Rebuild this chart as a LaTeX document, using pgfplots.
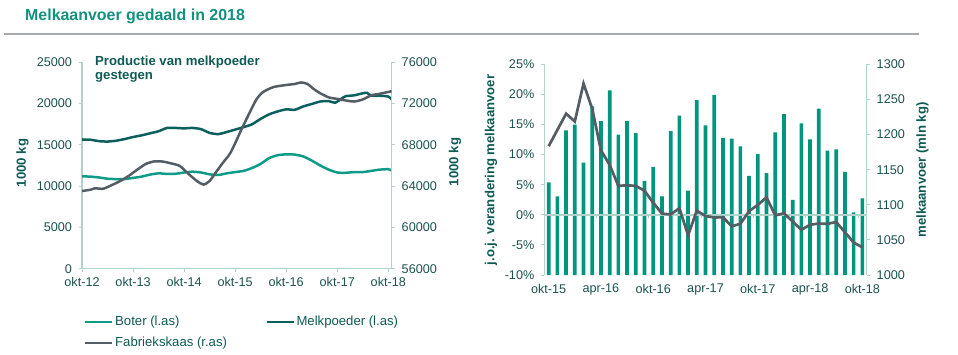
\documentclass[border=0pt]{standalone}
\usepackage{fontspec}
\setmainfont{Liberation Sans}
\usepackage{pgfplots}
\pgfplotsset{compat=1.18}
\definecolor{boter}{HTML}{0E9C88}
\definecolor{poeder}{HTML}{0B605E}
\definecolor{kaas}{HTML}{555D64}
\definecolor{barc}{HTML}{00957F}
\definecolor{axc}{HTML}{B0D2CA}
\definecolor{tickc}{HTML}{1B524E}
\definecolor{labc}{HTML}{0F5A55}
\definecolor{titlec}{HTML}{13917E}
\definecolor{rulec}{HTML}{A8ABAE}
\pgfplotsset{
  base/.style={
    scale only axis,
    anchor=south west,
    scaled ticks=false,
    /pgf/number format/assume math mode=true,
    /pgf/number format/set thousands separator={},
    tick label style={font=\fontsize{12.7}{14}\selectfont, text=tickc},
    axis line style={axc, line width=1.2bp},
    tick style={axc, line width=1bp},
    major tick length=3.5bp,
    tick align=outside,
    yticklabel shift=3bp,
    xticklabel shift=2bp,
  }
}
\begin{document}
\begin{tikzpicture}[x=1bp,y=1bp]
\useasboundingbox (0,0) rectangle (958,354);
\node[anchor=base west, font=\bfseries\fontsize{16}{19}\selectfont, text=titlec, inner sep=0] at (25,333.3) {Melkaanvoer gedaald in 2018};
\draw[rulec, line width=2.5bp] (4,320) -- (919,320);

% ---------------- left chart ----------------
\begin{axis}[base,
  at={(82bp,85.3bp)}, width=309.7bp, height=206.4bp,
  xmin=0, xmax=72.8, ymin=0, ymax=25000,
  axis y line*=left, axis x line*=bottom,
  ytick={0,5000,...,25000},
  xtick={0,12,...,72},
  xticklabels={okt-12,okt-13,okt-14,okt-15,okt-16,okt-17,okt-18},
  legend columns=2,
  legend cell align=left,
  legend image code/.code={\draw[#1, line width=2.5bp] (0bp,0bp) -- (27bp,0bp);},
  legend style={at={(axis description cs:0,0)}, anchor=north west, xshift=2bp, yshift=-46bp,
    draw=none, fill=none, inner sep=0pt, row sep=7bp,
    nodes={inner sep=1.5bp, font=\fontsize{13.2}{15}\selectfont, text=labc},
    /tikz/every even column/.append style={column sep=37bp}},
]
\addplot[boter, line width=2.5bp, smooth, tension=0.4] coordinates {
(0,11190)(2,11150)(4,11050)(6,10900)(8,10850)(10,10850)(12,11000)(14,11150)(16,11400)(18,11550)(20,11480)(22,11500)(24,11650)(26,11750)(28,11650)(30,11430)(32,11350)(34,11550)(36,11700)(38,11850)(40,12200)(42,12700)(44,13400)(46,13750)(48,13850)(50,13820)(52,13600)(54,13100)(56,12500)(58,12000)(60,11650)(62,11620)(64,11700)(66,11700)(68,11850)(70,12000)(72,12050)(72.8,11900)};
\addlegendentry{Boter (l.as)}
\addplot[poeder, line width=2.5bp, smooth, tension=0.4] coordinates {
(0,15650)(2,15620)(4,15450)(6,15400)(8,15500)(10,15700)(12,15950)(14,16150)(16,16400)(18,16650)(20,17050)(22,17050)(24,17000)(26,17050)(28,16900)(30,16450)(32,16300)(34,16550)(36,16850)(38,17150)(40,17500)(42,18150)(44,18700)(46,19050)(48,19300)(50,19250)(52,19650)(54,19950)(56,20250)(58,20300)(59.5,20100)(61,20600)(62,20900)(64,21000)(66,21250)(67,21300)(68,20950)(70,20950)(72,20850)(72.8,20500)};
\addlegendentry{Melkpoeder (l.as)}
\addlegendimage{kaas, line width=2.5bp}
\addlegendentry{Fabriekskaas (r.as)}
\end{axis}
\begin{axis}[base,
  at={(82bp,85.3bp)}, width=309.7bp, height=206.4bp,
  xmin=0, xmax=72.8, ymin=56000, ymax=76000,
  axis y line*=right, axis x line=none,
  ytick={56000,60000,...,76000},
]
\addplot[kaas, line width=2.5bp, smooth, tension=0.4] coordinates {
(0,63530)(2,63650)(3,63790)(5,63750)(7,64100)(9,64500)(11,65000)(13,65600)(15,66150)(17,66400)(19,66380)(21,66200)(23,65950)(25,65200)(27,64500)(28.6,64150)(30,64500)(31.3,65240)(33,66200)(35,67300)(37.6,69600)(39.5,71200)(41,72400)(42.5,73100)(45,73600)(48,73800)(50,73900)(51.5,74050)(53,73900)(54.5,73400)(56,73000)(58,72600)(60,72450)(62,72300)(64,72200)(66,72400)(68,72800)(70,72950)(72.8,73200)};
\end{axis}
\node[anchor=base west, font=\bfseries\fontsize{13.2}{15}\selectfont, text=labc, inner sep=0] at (95,289) {Productie van melkpoeder};
\node[anchor=base west, font=\bfseries\fontsize{13.2}{15}\selectfont, text=labc, inner sep=0] at (95,275) {gestegen};
\node[rotate=90, font=\bfseries\fontsize{13.2}{15}\selectfont, text=labc] at (22.5,191) {1000 kg};
\node[rotate=90, font=\bfseries\fontsize{13.2}{15}\selectfont, text=labc] at (455,192) {1000 kg};

% ---------------- right chart ----------------
\begin{axis}[base,
  at={(544.3bp,79bp)}, width=322.4bp, height=210.7bp,
  xmin=-0.5, xmax=36.5, ymin=1000, ymax=1300,
  axis y line*=right, axis x line=none,
  ytick={1000,1050,...,1300},
]
\addplot[ybar, bar width=3.7bp, bar shift=0pt, fill=barc, draw=none] coordinates {
(0,1132)(1,1112)(2,1206)(3,1214)(4,1160)(5,1240)(6,1219)(7,1263)(8,1200)(9,1219)(10,1202)(11,1134)(12,1154)(13,1112)(14,1205)(15,1227)(16,1120)(17,1249)(18,1213)(19,1256)(20,1195)(21,1194)(22,1183)(23,1141)(24,1172)(25,1145)(26,1203)(27,1229)(28,1107)(29,1216)(30,1193)(31,1237)(32,1177)(33,1179)(34,1147)(35,1089)(36,1109)};
\end{axis}
\begin{axis}[base,
  at={(544.3bp,79bp)}, width=322.4bp, height=210.7bp,
  xmin=-0.5, xmax=36.5, ymin=-10, ymax=25,
  axis y line=none, axis x line*=middle,
  x axis line style={draw=none},
  xtick={5.5,11.5,...,35.5}, xticklabels={},
  xtick align=outside,
]
\addplot[draw=none] coordinates {(0,0)};
\end{axis}
\begin{axis}[base,
  at={(544.3bp,79bp)}, width=322.4bp, height=210.7bp,
  xmin=-0.5, xmax=36.5, ymin=-10, ymax=25,
  axis y line*=left, axis x line*=bottom,
  x axis line style={draw=none},
  xtick style={draw=none},
  ytick={-10,-5,...,25},
  yticklabels={-10\%,-5\%,0\%,5\%,10\%,15\%,20\%,25\%},
  xtick={0,6,...,36},
  xticklabels={okt-15,apr-16,okt-16,apr-17,okt-17,apr-18,okt-18},
  xticklabel shift=2bp,
  extra y ticks={0}, extra y tick labels={},
  extra y tick style={grid=major, major grid style={axc, line width=2bp}},
]
\addplot[kaas, line width=2.7bp] coordinates {
(0,11.4)(1,14.1)(2,16.8)(3,15.5)(4,21.8)(5,17.6)(6,10.7)(7,8.3)(8,4.8)(9,4.9)(10,4.8)(11,4.0)(12,2.0)(13,0.2)(14,0.05)(15,1.1)(16,-3.4)(17,0.7)(18,-0.2)(19,-0.45)(20,-0.4)(21,-1.9)(22,-1.5)(23,0.6)(24,1.65)(25,2.9)(26,-0.1)(27,0.25)(28,-1.1)(29,-2.5)(30,-1.65)(31,-1.45)(32,-1.5)(33,-1.2)(34,-2.9)(35,-4.6)(36,-5.4)};
\end{axis}
\node[rotate=90, font=\bfseries\fontsize{13.2}{15}\selectfont, text=labc] at (491,184) {j.o.j. verandering melkaanvoer};
\node[rotate=90, font=\bfseries\fontsize{13.2}{15}\selectfont, text=labc] at (922.5,184) {melkaanvoer (mln kg)};
\end{tikzpicture}
\end{document}
